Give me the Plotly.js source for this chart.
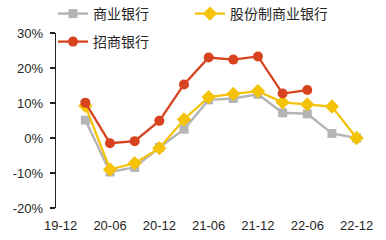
<!DOCTYPE html>
<html>
<head>
<meta charset="utf-8">
<script src="https://cdn.plot.ly/plotly-3.0.1.min.js"></script>
<style>html,body{margin:0;padding:0;background:#fff;}#chart{width:386px;height:240px;}</style>
</head>
<body>
<div id="chart"></div>
<script>
const quarters = ['19-12','20-03','20-06','20-09','20-12','21-03','21-06','21-09','21-12','22-03','22-06','22-09','22-12'];
const tickLabels = ['19-12','20-06','20-12','21-06','21-12','22-06','22-12'];
const yTicks = [-20, -10, 0, 10, 20, 30];

const seriesNames = ['商业银行', '股份制商业银行', '招商银行'];
const commercialX = ['20-03','20-06','20-09','20-12','21-03','21-06','21-09','21-12','22-03','22-06','22-09','22-12'];
const commercial = [5.1, -9.7, -8.4, -2.7, 2.5, 10.9, 11.3, 12.5, 7.2, 6.9, 1.3, 0.0];
const jointStockX = ['20-03','20-06','20-09','20-12','21-03','21-06','21-09','21-12','22-03','22-06','22-09','22-12'];
const jointStock = [9.2, -9.0, -7.2, -2.9, 5.3, 11.7, 12.6, 13.4, 10.2, 9.6, 9.0, 0.0];
const cmbX = ['20-03','20-06','20-09','20-12','21-03','21-06','21-09','21-12','22-03','22-06'];
const cmb = [10.1, -1.5, -0.9, 4.9, 15.3, 23.0, 22.4, 23.3, 12.7, 13.7];

const font = 'Liberation Sans, Arial, Noto Sans CJK SC, sans-serif';
const cjk = 'Noto Sans CJK SC, Liberation Sans, sans-serif';
const yMin = yTicks[0], yMax = yTicks[yTicks.length - 1];

const traces = [
  {x: commercialX, y: commercial, name: seriesNames[0], type: 'scatter', mode: 'lines+markers',
   line: {color: '#b5b5b5', width: 2.5}, marker: {symbol: 'square', size: 9, color: '#b5b5b5'},
   legend: 'legend', cliponaxis: false, hoverinfo: 'skip'},
  {x: jointStockX, y: jointStock, name: seriesNames[1], type: 'scatter', mode: 'lines+markers',
   line: {color: '#f5c20a', width: 2.3}, marker: {symbol: 'diamond', size: 11, color: '#f5c20a'},
   legend: 'legend', cliponaxis: false, hoverinfo: 'skip'},
  {x: cmbX, y: cmb, name: seriesNames[2], type: 'scatter', mode: 'lines+markers',
   line: {color: '#d8431f', width: 2.3}, marker: {symbol: 'circle', size: 10, color: '#d8431f'},
   legend: 'legend2', cliponaxis: false, hoverinfo: 'skip'}
];

const xr = [-0.19, 12.3];
const tickIdx = tickLabels.map(t => quarters.indexOf(t));

const layout = {
  width: 386, height: 240,
  margin: {l: 56, r: 22, t: 33, b: 32, pad: 0, autoexpand: false},
  paper_bgcolor: '#fff', plot_bgcolor: '#fff',
  font: {family: font, size: 13, color: '#262626'},
  showlegend: true,
  xaxis: {
    type: 'category', categoryorder: 'array', categoryarray: quarters,
    range: xr, showgrid: false, zeroline: false, showline: false, ticks: '',
    tickvals: tickLabels, ticktext: tickLabels, ticklabelstandoff: 8,
    tickfont: {family: font, size: 13, color: '#262626'}, fixedrange: true
  },
  xaxis2: {
    type: 'linear', overlaying: 'x', anchor: 'free',
    position: (0 - yMin) / (yMax - yMin),
    range: xr, showgrid: false, zeroline: false, showline: true, linecolor: '#222', linewidth: 1.3,
    ticks: 'outside', ticklen: 3, tickwidth: 1.3, tickcolor: '#222',
    tickvals: tickIdx.map(i => i - 0.13), showticklabels: false, fixedrange: true
  },
  yaxis: {
    range: [yMin, yMax], tickvals: yTicks, ticktext: yTicks.map(v => v + '%'),
    showgrid: false, zeroline: false, showline: true, linecolor: '#222', linewidth: 1.3,
    ticks: 'outside', ticklen: 5, tickwidth: 1.3, tickcolor: '#222', ticklabelstandoff: 4,
    tickfont: {family: font, size: 13, color: '#262626'}, fixedrange: true
  },
  legend: {
    orientation: 'h', xref: 'container', yref: 'container',
    x: 53 / 386, y: 1 - 14 / 240, xanchor: 'left', yanchor: 'middle',
    entrywidth: 92, entrywidthmode: 'pixels',
    font: {family: cjk, size: 14, color: '#262626'}, bgcolor: 'rgba(0,0,0,0)', itemclick: false
  },
  legend2: {
    orientation: 'h', xref: 'container', yref: 'container',
    x: 53 / 386, y: 1 - 42 / 240, xanchor: 'left', yanchor: 'middle',
    font: {family: cjk, size: 14, color: '#262626'}, bgcolor: 'rgba(0,0,0,0)', itemclick: false
  }
};

Plotly.newPlot('chart', traces, layout, {staticPlot: true, displayModeBar: false});
</script>
</body>
</html>
